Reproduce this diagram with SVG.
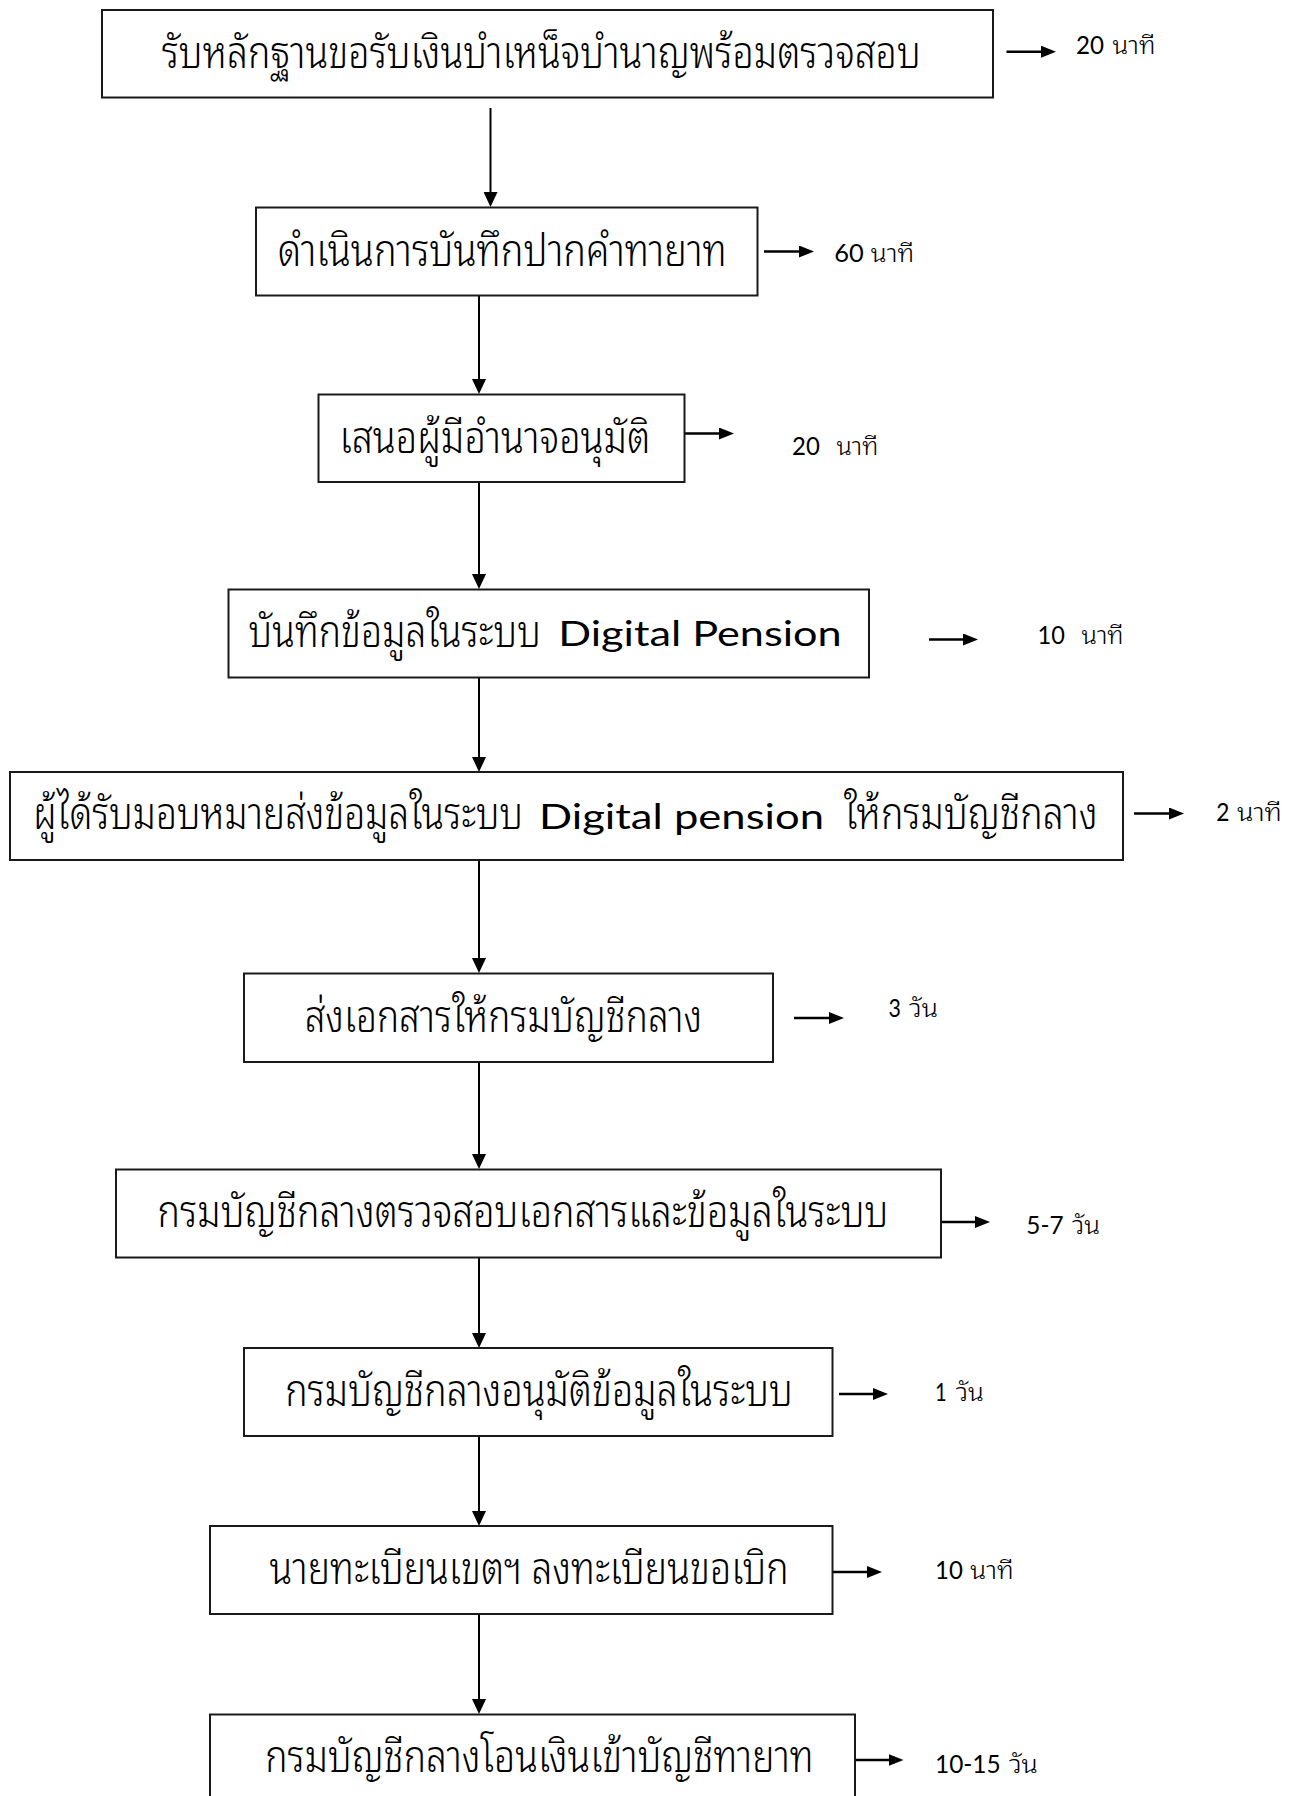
<svg xmlns="http://www.w3.org/2000/svg" width="1299" height="1796" viewBox="0 0 1299 1796">
<defs>
<style>
.box{fill:#fff;stroke:#1a1a1a;stroke-width:2}
.th{font-family:"Noto Sans Thai Looped","Noto Serif Thai",Garuda,Loma,Norasi,"Noto Sans Thai","Noto Sans",sans-serif;font-size:36px;font-weight:300;fill:#000}
.en{font-family:Lato,"Open Sans",sans-serif;font-size:35px;font-weight:400;fill:#000}
.dg{font-family:Lato,"Open Sans",sans-serif;font-size:25.5px;font-weight:400;fill:#000}
.tl{font-family:"Noto Sans Thai Looped","Noto Serif Thai",Garuda,Loma,Norasi,"Noto Sans Thai","Noto Sans",sans-serif;font-size:24px;font-weight:300;fill:#000}
.conn{stroke:#000;stroke-width:2;fill:none}
.side{stroke:#000;stroke-width:2.6;fill:none}
</style>
<marker id="ah" viewBox="0 0 15 14" refX="7" refY="7" markerWidth="15" markerHeight="14" markerUnits="userSpaceOnUse" orient="auto">
<path d="M0,0 L15,7 L0,14 z" fill="#000"/>
</marker>
<marker id="ahs" viewBox="0 0 15 12" refX="7" refY="6" markerWidth="15" markerHeight="12" markerUnits="userSpaceOnUse" orient="auto">
<path d="M0,0 L15,6 L0,12 z" fill="#000"/>
</marker>
</defs>
<rect width="1299" height="1796" fill="#fff"/>

<g id="connectors">
<line class="conn" x1="490.5" y1="108" x2="490.5" y2="199" marker-end="url(#ah)"/>
<line class="conn" x1="479" y1="295.5" x2="479" y2="386" marker-end="url(#ah)"/>
<line class="conn" x1="479" y1="482" x2="479" y2="581" marker-end="url(#ah)"/>
<line class="conn" x1="479" y1="677.5" x2="479" y2="764" marker-end="url(#ah)"/>
<line class="conn" x1="479" y1="860" x2="479" y2="965" marker-end="url(#ah)"/>
<line class="conn" x1="479" y1="1062" x2="479" y2="1161" marker-end="url(#ah)"/>
<line class="conn" x1="479" y1="1257.5" x2="479" y2="1340" marker-end="url(#ah)"/>
<line class="conn" x1="479" y1="1436" x2="479" y2="1518" marker-end="url(#ah)"/>
<line class="conn" x1="479" y1="1614" x2="479" y2="1706" marker-end="url(#ah)"/>

<line class="side" x1="1006.5" y1="51.7" x2="1048" y2="51.7" marker-end="url(#ahs)"/>
<line class="side" x1="764" y1="251.5" x2="806" y2="251.5" marker-end="url(#ahs)"/>
<line class="side" x1="684.5" y1="433.5" x2="726" y2="433.5" marker-end="url(#ahs)"/>
<line class="side" x1="929" y1="639.5" x2="970" y2="639.5" marker-end="url(#ahs)"/>
<line class="side" x1="1134" y1="813.5" x2="1176" y2="813.5" marker-end="url(#ahs)"/>
<line class="side" x1="794" y1="1018" x2="836" y2="1018" marker-end="url(#ahs)"/>
<line class="side" x1="941" y1="1222" x2="982" y2="1222" marker-end="url(#ahs)"/>
<line class="side" x1="839" y1="1394" x2="880" y2="1394" marker-end="url(#ahs)"/>
<line class="side" x1="832.5" y1="1572" x2="874" y2="1572" marker-end="url(#ahs)"/>
<line class="side" x1="855" y1="1760" x2="895.5" y2="1760" marker-end="url(#ahs)"/>
</g>

<g id="node1">
<rect class="box" x="102" y="10" width="891" height="87.5"/>
<text class="th" transform="matrix(1,0,0,1.25,0,68)" x="161.7" y="0" textLength="759" lengthAdjust="spacingAndGlyphs">รับหลักฐานขอรับเงินบำเหน็จบำนาญพร้อมตรวจสอบ</text>
</g>
<g id="node2">
<rect class="box" x="256" y="207.5" width="501.5" height="88"/>
<text class="th" transform="matrix(1,0,0,1.25,0,265.5)" x="277.8" y="0" textLength="449" lengthAdjust="spacingAndGlyphs">ดำเนินการบันทึกปากคำทายาท</text>
</g>
<g id="node3">
<rect class="box" x="318.5" y="394.5" width="366" height="87.5"/>
<text class="th" transform="matrix(1,0,0,1.25,0,452.5)" x="339.5" y="0" textLength="311" lengthAdjust="spacingAndGlyphs">เสนอผู้มีอำนาจอนุมัติ</text>
</g>
<g id="node4">
<rect class="box" x="228.5" y="589.5" width="640.5" height="88"/>
<text class="th" transform="matrix(1,0,0,1.25,0,646.5)" x="248.5" y="0" textLength="292.5" lengthAdjust="spacingAndGlyphs">บันทึกข้อมูลในระบบ</text>
<text class="en" x="558.3" y="646" textLength="283.4" lengthAdjust="spacingAndGlyphs">Digital Pension</text>
</g>
<g id="node5">
<rect class="box" x="10" y="772" width="1113" height="88"/>
<text class="th" style="font-size:33.5px" transform="matrix(1,0,0,1.343,0,829)" x="33.2" y="0" textLength="490" lengthAdjust="spacingAndGlyphs">ผู้ได้รับมอบหมายส่งข้อมูลในระบบ</text>
<text class="en" x="539" y="829" textLength="285" lengthAdjust="spacingAndGlyphs">Digital pension</text>
<text class="th" transform="matrix(1,0,0,1.25,0,829)" x="844" y="0" textLength="253.6" lengthAdjust="spacingAndGlyphs">ให้กรมบัญชีกลาง</text>
</g>
<g id="node6">
<rect class="box" x="244" y="973.5" width="529" height="88.5"/>
<text class="th" transform="matrix(1,0,0,1.25,0,1032)" x="304.7" y="0" textLength="397.3" lengthAdjust="spacingAndGlyphs">ส่งเอกสารให้กรมบัญชีกลาง</text>
</g>
<g id="node7">
<rect class="box" x="116" y="1169.5" width="825" height="88"/>
<text class="th" transform="matrix(1,0,0,1.25,0,1227)" x="157.5" y="0" textLength="731" lengthAdjust="spacingAndGlyphs">กรมบัญชีกลางตรวจสอบเอกสารและข้อมูลในระบบ</text>
</g>
<g id="node8">
<rect class="box" x="244" y="1348" width="588.5" height="88"/>
<text class="th" transform="matrix(1,0,0,1.25,0,1405.5)" x="285.2" y="0" textLength="507.7" lengthAdjust="spacingAndGlyphs">กรมบัญชีกลางอนุมัติข้อมูลในระบบ</text>
</g>
<g id="node9">
<rect class="box" x="210" y="1526" width="622.5" height="88"/>
<text class="th" transform="matrix(1,0,0,1.25,0,1583.5)" x="269.5" y="0" textLength="519.2" lengthAdjust="spacingAndGlyphs">นายทะเบียนเขตฯ ลงทะเบียนขอเบิก</text>
</g>
<g id="node10">
<rect class="box" x="210" y="1714.5" width="645" height="90"/>
<text class="th" transform="matrix(1,0,0,1.25,0,1772)" x="265.3" y="0" textLength="548.3" lengthAdjust="spacingAndGlyphs">กรมบัญชีกลางโอนเงินเข้าบัญชีทายาท</text>
</g>

<g id="time-labels">
<text class="tl" y="53.5"><tspan class="dg" x="1076" textLength="28" lengthAdjust="spacingAndGlyphs">20</tspan><tspan x="1112.5" textLength="43" lengthAdjust="spacingAndGlyphs">นาที</tspan></text>
<text class="tl" y="262"><tspan class="dg" x="834.3" textLength="29.5" lengthAdjust="spacingAndGlyphs">60</tspan><tspan x="870.8" textLength="43.5" lengthAdjust="spacingAndGlyphs">นาที</tspan></text>
<text class="tl" y="455.4"><tspan class="dg" x="792" textLength="27.8" lengthAdjust="spacingAndGlyphs">20</tspan><tspan x="836.4" textLength="42" lengthAdjust="spacingAndGlyphs">นาที</tspan></text>
<text class="tl" y="644"><tspan class="dg" x="1037.5" textLength="27.3" lengthAdjust="spacingAndGlyphs">10</tspan><tspan x="1081.4" textLength="42.3" lengthAdjust="spacingAndGlyphs">นาที</tspan></text>
<text class="tl" y="821.2"><tspan class="dg" x="1216.2" textLength="13.2" lengthAdjust="spacingAndGlyphs">2</tspan><tspan x="1236.9" textLength="45" lengthAdjust="spacingAndGlyphs">นาที</tspan></text>
<text class="tl" y="1017.1"><tspan class="dg" x="888.6" textLength="12.4" lengthAdjust="spacingAndGlyphs">3</tspan><tspan x="909" textLength="29" lengthAdjust="spacingAndGlyphs">วัน</tspan></text>
<text class="tl" y="1234.3"><tspan class="dg" x="1026.3" textLength="37.3" lengthAdjust="spacingAndGlyphs">5-7</tspan><tspan x="1071.9" textLength="28.1" lengthAdjust="spacingAndGlyphs">วัน</tspan></text>
<text class="tl" y="1400.7"><tspan class="dg" x="935" textLength="11.7" lengthAdjust="spacingAndGlyphs">1</tspan><tspan x="955.8" textLength="28.2" lengthAdjust="spacingAndGlyphs">วัน</tspan></text>
<text class="tl" y="1578.7"><tspan class="dg" x="935" textLength="27.8" lengthAdjust="spacingAndGlyphs">10</tspan><tspan x="970.3" textLength="43.5" lengthAdjust="spacingAndGlyphs">นาที</tspan></text>
<text class="tl" y="1773.1"><tspan class="dg" x="935" textLength="65.6" lengthAdjust="spacingAndGlyphs">10-15</tspan><tspan x="1008.9" textLength="29" lengthAdjust="spacingAndGlyphs">วัน</tspan></text>
</g>
</svg>
